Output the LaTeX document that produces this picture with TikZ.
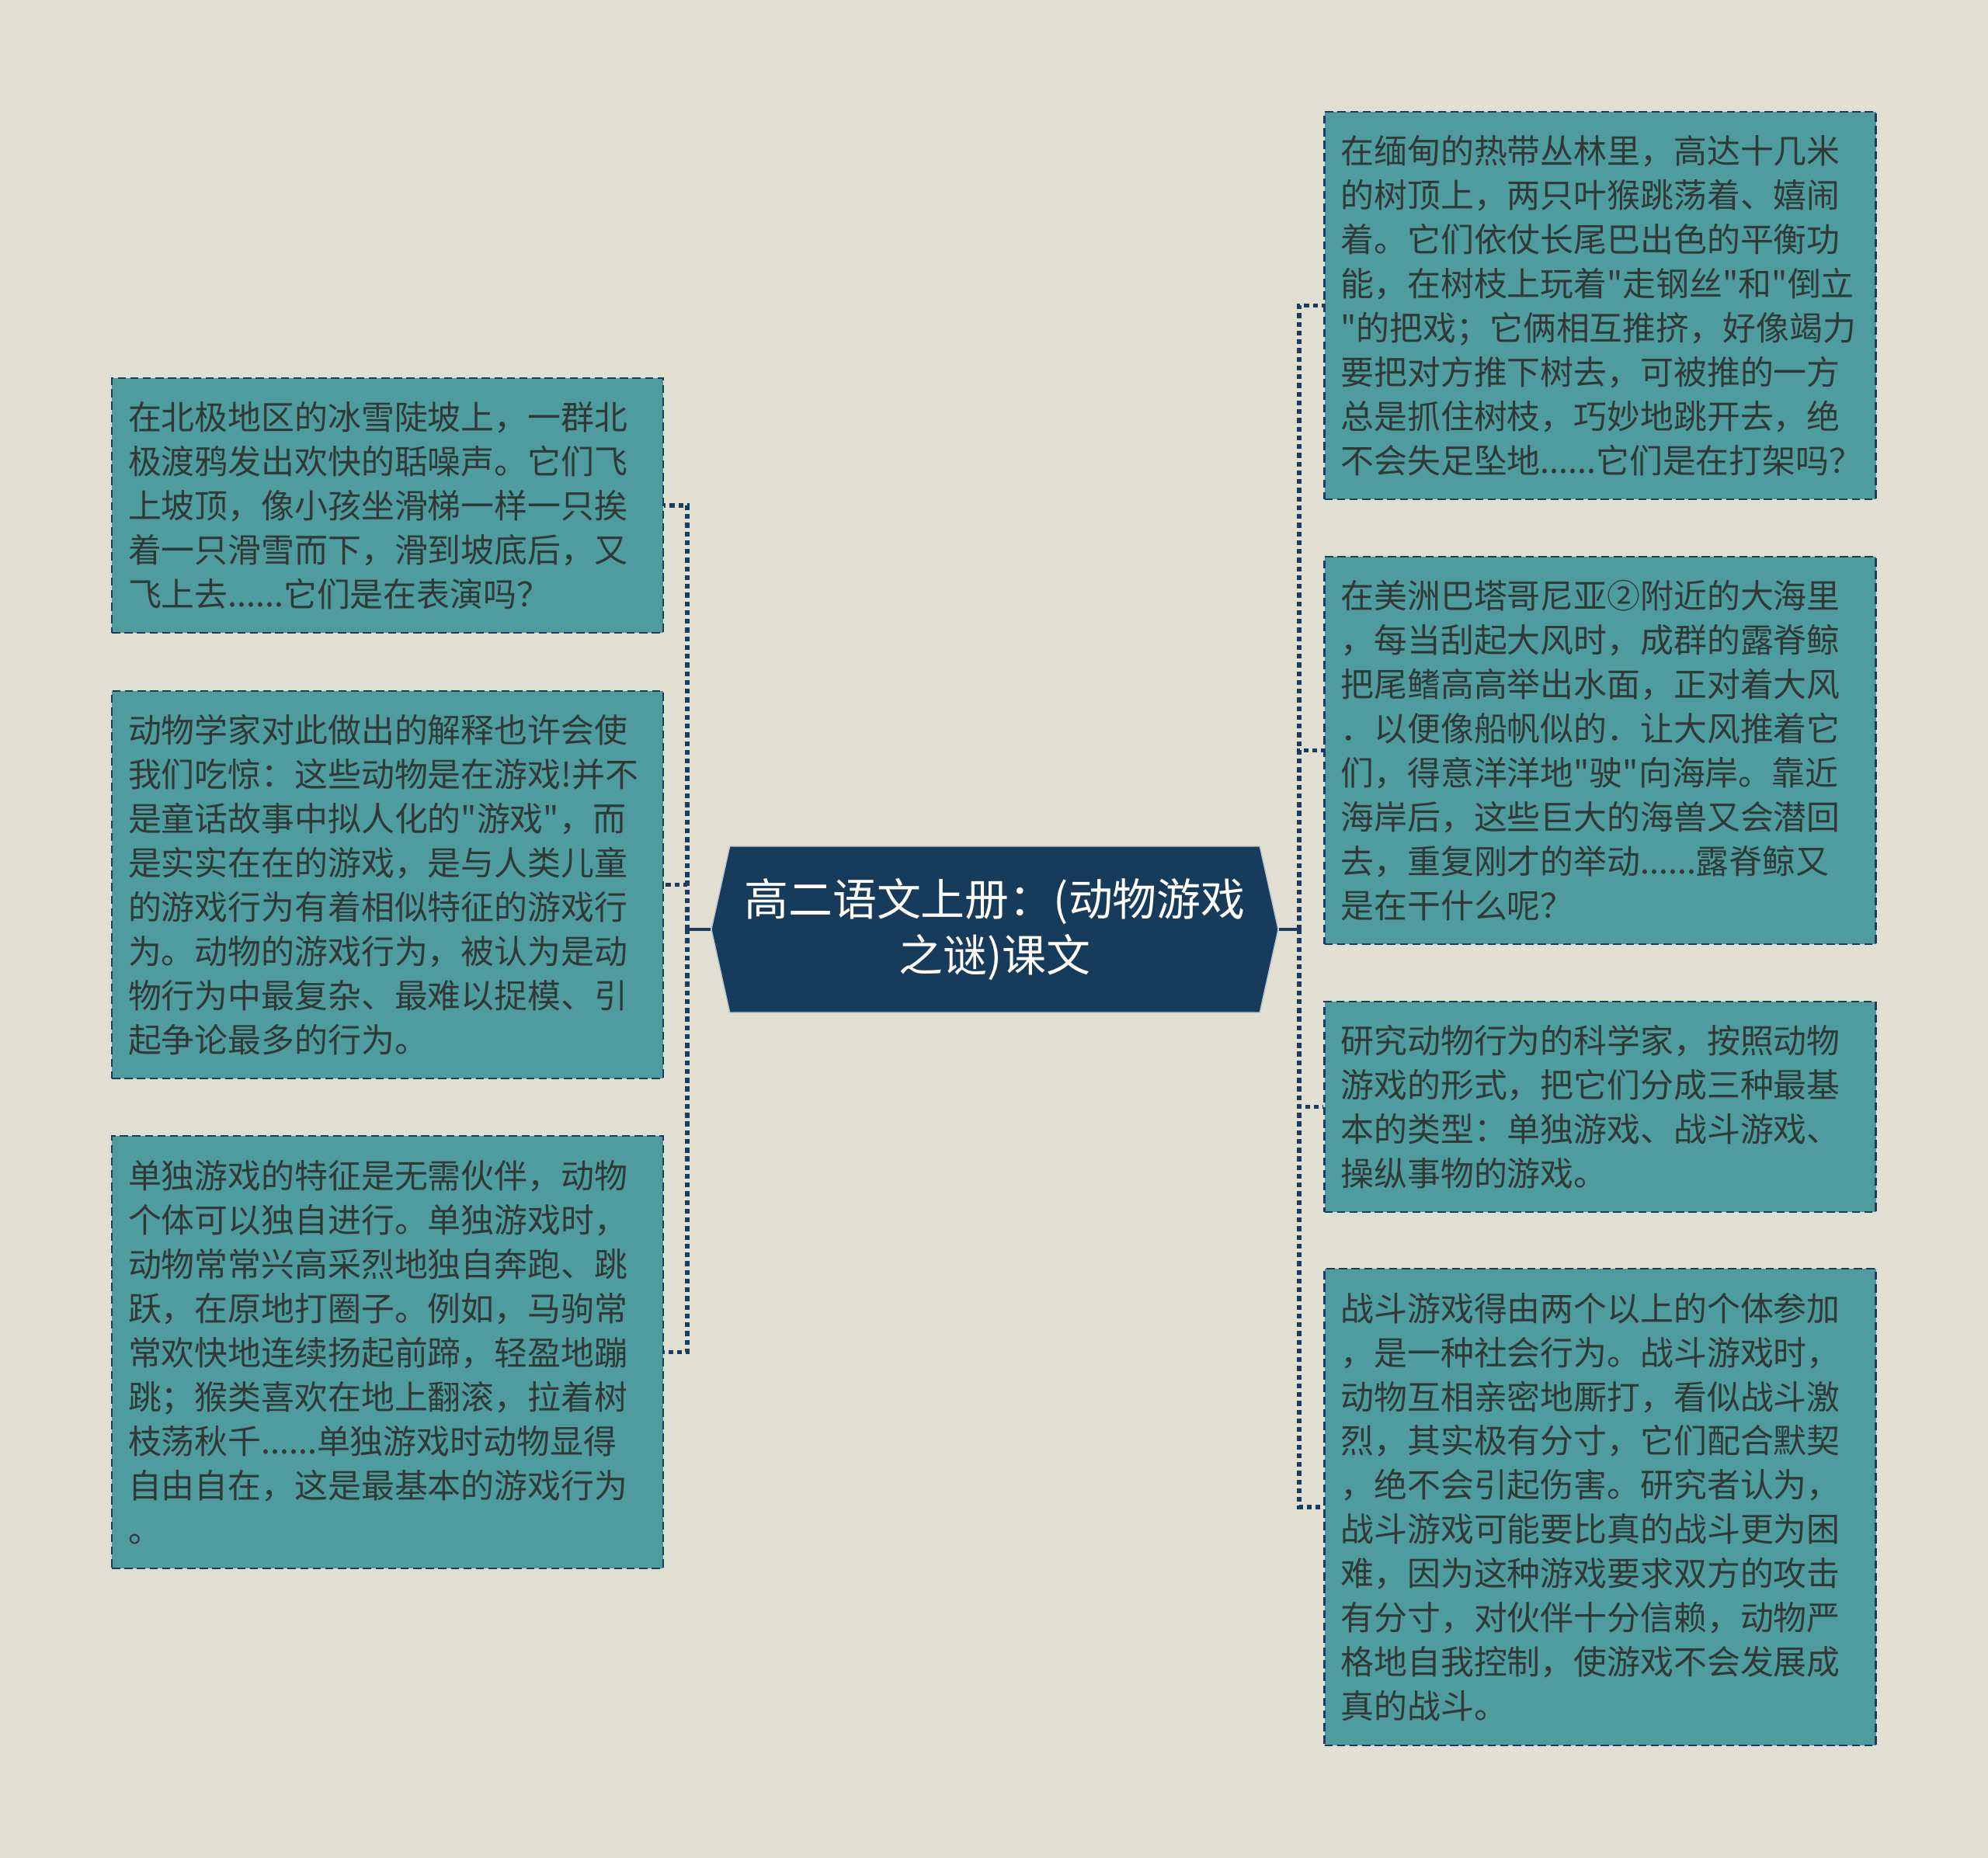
\documentclass[tikz,border=0pt]{standalone}
\usepackage{fontspec}
\newfontfamily\cjk{Noto Sans CJK SC}[Ligatures=TeXOff]
\usetikzlibrary{shapes.symbols}
\definecolor{bg}{HTML}{E0DFD1}
\definecolor{boxfill}{HTML}{4E9C9E}
\definecolor{linecol}{HTML}{1B3C5C}
\definecolor{hubfill}{HTML}{173B5A}
\definecolor{txt}{HTML}{313838}

\begin{document}
\begin{tikzpicture}[
	box/.style={rectangle,draw=linecol,fill=boxfill,line width=0.8pt,dash pattern=on 3pt off 1.6pt,text=txt,font=\cjk\fontsize{12.2pt}{16.2pt}\selectfont,align=left,text width=6.68cm,inner xsep=0.21cm,minimum width=7.1cm},
	hub/.style={signal,signal to=west and east,signal pointer angle=155,fill=hubfill,draw=white!70!hubfill,line width=0.4pt,text=white,font=\cjk\fontsize{16.2pt}{20.7pt}\selectfont,align=center,minimum width=7.3cm,minimum height=2.14cm,inner sep=0pt},
	trunk/.style={draw=linecol,line width=1.3pt},
	branch/.style={draw=linecol,line width=1.6pt,dash pattern=on 1.8pt off 1.4pt}]
	\fill[bg] (0,0) rectangle (25.6,-23.93);
	\node[hub] (0) at (12.81,-11.97) {高二语文上册：(动物游戏\\之谜)课文};
	\node[box,minimum height=3.28cm] (1) at (4.99,-6.51) {在北极地区的冰雪陡坡上，一群北\\极渡鸦发出欢快的聒噪声。它们飞\\上坡顶，像小孩坐滑梯一样一只挨\\着一只滑雪而下，滑到坡底后，又\\飞上去......它们是在表演吗？};
	\node[box,minimum height=4.99cm] (2) at (4.99,-11.395) {动物学家对此做出的解释也许会使\\我们吃惊：这些动物是在游戏!并不\\是童话故事中拟人化的"游戏"，而\\是实实在在的游戏，是与人类儿童\\的游戏行为有着相似特征的游戏行\\为。动物的游戏行为，被认为是动\\物行为中最复杂、最难以捉模、引\\起争论最多的行为。};
	\node[box,minimum height=5.57cm] (3) at (4.99,-17.415) {单独游戏的特征是无需伙伴，动物\\个体可以独自进行。单独游戏时，\\动物常常兴高采烈地独自奔跑、跳\\跃，在原地打圈子。例如，马驹常\\常欢快地连续扬起前蹄，轻盈地蹦\\跳；猴类喜欢在地上翻滚，拉着树\\枝荡秋千......单独游戏时动物显得\\自由自在，这是最基本的游戏行为\\。};
	\node[box,minimum height=4.99cm] (4) at (20.605,-3.935) {在缅甸的热带丛林里，高达十几米\\的树顶上，两只叶猴跳荡着、嬉闹\\着。它们依仗长尾巴出色的平衡功\\能，在树枝上玩着"走钢丝"和"倒立\\"的把戏；它俩相互推挤，好像竭力\\要把对方推下树去，可被推的一方\\总是抓住树枝，巧妙地跳开去，绝\\不会失足坠地......它们是在打架吗？};
	\node[box,minimum height=4.99cm] (5) at (20.605,-9.665) {在美洲巴塔哥尼亚②附近的大海里\\，每当刮起大风时，成群的露脊鲸\\把尾鳍高高举出水面，正对着大风\\．以便像船帆似的．让大风推着它\\们，得意洋洋地"驶"向海岸。靠近\\海岸后，这些巨大的海兽又会潜回\\去，重复刚才的举动......露脊鲸又\\是在干什么呢？};
	\node[box,minimum height=2.71cm] (6) at (20.605,-14.255) {研究动物行为的科学家，按照动物\\游戏的形式，把它们分成三种最基\\本的类型：单独游戏、战斗游戏、\\操纵事物的游戏。};
	\node[box,minimum height=6.14cm] (7) at (20.605,-19.41) {战斗游戏得由两个以上的个体参加\\，是一种社会行为。战斗游戏时，\\动物互相亲密地厮打，看似战斗激\\烈，其实极有分寸，它们配合默契\\，绝不会引起伤害。研究者认为，\\战斗游戏可能要比真的战斗更为困\\难，因为这种游戏要求双方的攻击\\有分寸，对伙伴十分信赖，动物严\\格地自我控制，使游戏不会发展成\\真的战斗。};
	\coordinate (a) at (8.85,-11.97);
	\coordinate (b) at (16.73,-11.97);
	\draw[trunk] (0.west)--(a);
	\draw[trunk] (0.east)--(b);
	\draw[branch] (a) |- (1.east);
	\draw[branch] (a) |- (2.east);
	\draw[branch] (a) |- (3.east);
	\draw[branch] (b) |- (4.west);
	\draw[branch] (b) |- (5.west);
	\draw[branch] (b) |- (6.west);
	\draw[branch] (b) |- (7.west);
\end{tikzpicture}
\end{document}
